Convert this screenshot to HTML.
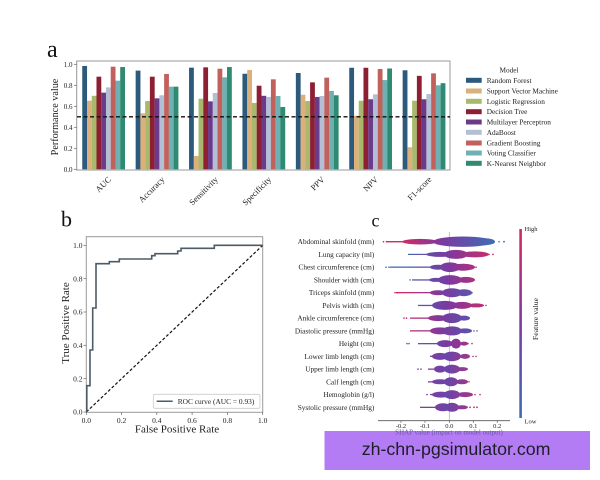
<!DOCTYPE html>
<html><head><meta charset="utf-8">
<style>
html,body{margin:0;padding:0;background:#fff;}
svg{display:block;}
text{font-family:"Liberation Serif","Times New Roman",serif;fill:#222;}
.c0{fill:#2c5a7c}.c1{fill:#dcb07a}.c2{fill:#a8b86c}.c3{fill:#8e1f33}.c4{fill:#6b3b8a}
.c5{fill:#b3bfd4}.c6{fill:#c2615b}.c7{fill:#6fb0b3}.c8{fill:#2e8a70}
.tk{font-size:7px;fill:#333}
.xl{font-size:8.5px;fill:#222}
.lg{font-size:7.3px;fill:#222}
.sl{font-size:7.3px;fill:#222}
</style></head>
<body>
<svg width="600" height="480" viewBox="0 0 600 480" xmlns="http://www.w3.org/2000/svg">
<defs>
<linearGradient id="rb" gradientUnits="userSpaceOnUse" x1="400" y1="0" x2="495" y2="0">
<stop offset="0" stop-color="#d42a63"/><stop offset="0.45" stop-color="#7b3aa0"/><stop offset="1" stop-color="#3e6db5"/></linearGradient>
<linearGradient id="br" gradientUnits="userSpaceOnUse" x1="400" y1="0" x2="495" y2="0">
<stop offset="0" stop-color="#3e6db5"/><stop offset="0.5" stop-color="#7b3aa0"/><stop offset="1" stop-color="#d42a63"/></linearGradient>
<linearGradient id="mx" gradientUnits="userSpaceOnUse" x1="415" y1="0" x2="480" y2="0">
<stop offset="0" stop-color="#8a3a9a"/><stop offset="0.5" stop-color="#6a45a8"/><stop offset="1" stop-color="#b83278"/></linearGradient>
<linearGradient id="cb" x1="0" y1="0" x2="0" y2="1">
<stop offset="0" stop-color="#d42a63"/><stop offset="0.5" stop-color="#7b3aa0"/><stop offset="1" stop-color="#3e6db5"/></linearGradient>
</defs>

<!-- ============ Panel a ============ -->
<text x="47" y="57" style="font-size:24px;fill:#111">a</text>
<rect x="76.7" y="61" width="373.3" height="109" fill="#fff" stroke="#999" stroke-width="1"/>

<g id="grp0" transform="translate(82.25 0)">
<rect class="c0" x="0" y="65.98" width="4.8" height="103.32"/>
<rect class="c1" x="4.745" y="100.73" width="4.8" height="68.57"/>
<rect class="c2" x="9.49" y="95.8" width="4.8" height="73.5"/>
<rect class="c3" x="14.235" y="76.69" width="4.8" height="92.61"/>
<rect class="c4" x="18.98" y="92.65" width="4.8" height="76.65"/>
<rect class="c5" x="23.725" y="87.4" width="4.8" height="81.9"/>
<rect class="c6" x="28.47" y="66.71" width="4.8" height="102.59"/>
<rect class="c7" x="33.215" y="80.68" width="4.8" height="88.62"/>
<rect class="c8" x="37.96" y="67.03" width="4.8" height="102.27"/>
</g>
<g transform="translate(135.65 0)">
<rect class="c0" x="0" y="70.6" width="4.8" height="98.7"/>
<rect class="c1" x="4.745" y="113.33" width="4.8" height="55.97"/>
<rect class="c2" x="9.49" y="101.05" width="4.8" height="68.25"/>
<rect class="c3" x="14.235" y="76.69" width="4.8" height="92.61"/>
<rect class="c4" x="18.98" y="98.32" width="4.8" height="70.98"/>
<rect class="c5" x="23.725" y="95.27" width="4.8" height="74.03"/>
<rect class="c6" x="28.47" y="73.96" width="4.8" height="95.34"/>
<rect class="c7" x="33.215" y="86.66" width="4.8" height="82.64"/>
<rect class="c8" x="37.96" y="86.66" width="4.8" height="82.64"/>
</g>
<g transform="translate(189.05 0)">
<rect class="c0" x="0" y="67.66" width="4.8" height="101.64"/>
<rect class="c1" x="4.745" y="155.96" width="4.8" height="13.34"/>
<rect class="c2" x="9.49" y="98.74" width="4.8" height="70.56"/>
<rect class="c3" x="14.235" y="67.34" width="4.8" height="101.96"/>
<rect class="c4" x="18.98" y="101.36" width="4.8" height="67.94"/>
<rect class="c5" x="23.725" y="92.96" width="4.8" height="76.34"/>
<rect class="c6" x="28.47" y="68.71" width="4.8" height="100.59"/>
<rect class="c7" x="33.215" y="77.32" width="4.8" height="91.98"/>
<rect class="c8" x="37.96" y="67.03" width="4.8" height="102.27"/>
</g>
<g transform="translate(242.45 0)">
<rect class="c0" x="0" y="73.75" width="4.8" height="95.55"/>
<rect class="c1" x="4.745" y="69.97" width="4.8" height="99.33"/>
<rect class="c2" x="9.49" y="102.94" width="4.8" height="66.36"/>
<rect class="c3" x="14.235" y="85.72" width="4.8" height="83.58"/>
<rect class="c4" x="18.98" y="95.8" width="4.8" height="73.5"/>
<rect class="c5" x="23.725" y="96.95" width="4.8" height="72.35"/>
<rect class="c6" x="28.47" y="79.31" width="4.8" height="89.99"/>
<rect class="c7" x="33.215" y="96.01" width="4.8" height="73.29"/>
<rect class="c8" x="37.96" y="107.03" width="4.8" height="62.27"/>
</g>
<g transform="translate(295.85 0)">
<rect class="c0" x="0" y="73.01" width="4.8" height="96.29"/>
<rect class="c1" x="4.745" y="94.75" width="4.8" height="74.55"/>
<rect class="c2" x="9.49" y="101.05" width="4.8" height="68.25"/>
<rect class="c3" x="14.235" y="82.36" width="4.8" height="86.94"/>
<rect class="c4" x="18.98" y="96.95" width="4.8" height="72.35"/>
<rect class="c5" x="23.725" y="96.01" width="4.8" height="73.29"/>
<rect class="c6" x="28.47" y="77.63" width="4.8" height="91.67"/>
<rect class="c7" x="33.215" y="90.97" width="4.8" height="78.33"/>
<rect class="c8" x="37.96" y="95.27" width="4.8" height="74.03"/>
</g>
<g transform="translate(349.25 0)">
<rect class="c0" x="0" y="67.76" width="4.8" height="101.54"/>
<rect class="c1" x="4.745" y="115.75" width="4.8" height="53.55"/>
<rect class="c2" x="9.49" y="100.73" width="4.8" height="68.57"/>
<rect class="c3" x="14.235" y="67.76" width="4.8" height="101.54"/>
<rect class="c4" x="18.98" y="99.26" width="4.8" height="70.04"/>
<rect class="c5" x="23.725" y="94.33" width="4.8" height="74.97"/>
<rect class="c6" x="28.47" y="69.02" width="4.8" height="100.28"/>
<rect class="c7" x="33.215" y="80.05" width="4.8" height="89.25"/>
<rect class="c8" x="37.96" y="68.5" width="4.8" height="100.8"/>
</g>
<g transform="translate(402.65 0)">
<rect class="c0" x="0" y="70.28" width="4.8" height="99.02"/>
<rect class="c1" x="4.745" y="147.25" width="4.8" height="22.05"/>
<rect class="c2" x="9.49" y="100.73" width="4.8" height="68.57"/>
<rect class="c3" x="14.235" y="75.85" width="4.8" height="93.45"/>
<rect class="c4" x="18.98" y="99.26" width="4.8" height="70.04"/>
<rect class="c5" x="23.725" y="94.01" width="4.8" height="75.29"/>
<rect class="c6" x="28.47" y="73.33" width="4.8" height="95.97"/>
<rect class="c7" x="33.215" y="85.3" width="4.8" height="84"/>
<rect class="c8" x="37.96" y="83.2" width="4.8" height="86.1"/>
</g>

<line x1="77" y1="116.8" x2="450" y2="116.8" stroke="#111" stroke-width="1.3" stroke-dasharray="4,2.5"/>

<!-- y ticks a -->
<g stroke="#666" stroke-width="0.7">
<line x1="74" y1="169.3" x2="76.7" y2="169.3"/><line x1="74" y1="148.3" x2="76.7" y2="148.3"/>
<line x1="74" y1="127.3" x2="76.7" y2="127.3"/><line x1="74" y1="106.3" x2="76.7" y2="106.3"/>
<line x1="74" y1="85.3" x2="76.7" y2="85.3"/><line x1="74" y1="64.3" x2="76.7" y2="64.3"/>
</g>
<g class="tk" text-anchor="end">
<text x="72.5" y="171.8">0.0</text><text x="72.5" y="150.8">0.2</text><text x="72.5" y="129.8">0.4</text>
<text x="72.5" y="108.8">0.6</text><text x="72.5" y="87.8">0.8</text><text x="72.5" y="66.8">1.0</text>
</g>
<text transform="translate(58 117) rotate(-90)" text-anchor="middle" style="font-size:10.2px">Performance value</text>

<g class="xl" text-anchor="end">
<text transform="translate(111.6 180) rotate(-45)">AUC</text>
<text transform="translate(165 180) rotate(-45)">Accuracy</text>
<text transform="translate(218.4 180) rotate(-45)">Sensitivity</text>
<text transform="translate(271.8 180) rotate(-45)">Specificity</text>
<text transform="translate(325.2 180) rotate(-45)">PPV</text>
<text transform="translate(378.6 180) rotate(-45)">NPV</text>
<text transform="translate(432 180) rotate(-45)">F1-score</text>
</g>

<!-- legend a -->
<text x="509" y="72.7" text-anchor="middle" class="lg">Model</text>
<rect class="c0" x="466" y="77.8" width="15.7" height="5"/><text class="lg" x="486.7" y="82.8">Random Forest</text>
<rect class="c1" x="466" y="88.5" width="15.7" height="5"/><text class="lg" x="486.7" y="93.5">Support Vector Machine</text>
<rect class="c2" x="466" y="98.8" width="15.7" height="5"/><text class="lg" x="486.7" y="103.8">Logistic Regression</text>
<rect class="c3" x="466" y="109.2" width="15.7" height="5"/><text class="lg" x="486.7" y="114.2">Decision Tree</text>
<rect class="c4" x="466" y="119.5" width="15.7" height="5"/><text class="lg" x="486.7" y="124.5">Multilayer Perceptron</text>
<rect class="c5" x="466" y="129.8" width="15.7" height="5"/><text class="lg" x="486.7" y="134.8">AdaBoost</text>
<rect class="c6" x="466" y="140.5" width="15.7" height="5"/><text class="lg" x="486.7" y="145.5">Gradient Boosting</text>
<rect class="c7" x="466" y="150.5" width="15.7" height="5"/><text class="lg" x="486.7" y="155.5">Voting Classifier</text>
<rect class="c8" x="466" y="160.8" width="15.7" height="5"/><text class="lg" x="486.7" y="165.8">K-Nearest Neighbor</text>

<!-- ============ Panel b ============ -->
<text x="61" y="226.7" style="font-size:22px;fill:#111">b</text>
<rect x="86.3" y="236.7" width="176.4" height="175.6" fill="#fff" stroke="#999" stroke-width="1"/>
<line x1="86.3" y1="412" x2="262.7" y2="245.3" stroke="#111" stroke-width="1.2" stroke-dasharray="3,2"/>
<path d="M86.8,412 V385.7 H90 V350 H92.7 V308 H96 V263.7 H109.3 V261.7 H119.3 V259 H151.7 V255.7 H155 V253.7 H177.7 V251 H181 V248.3 H214.3 V245.3 H262.7" fill="none" stroke="#4b5b68" stroke-width="1.6"/>
<g stroke="#666" stroke-width="0.7">
<line x1="83.5" y1="412" x2="86.3" y2="412"/><line x1="83.5" y1="378.7" x2="86.3" y2="378.7"/>
<line x1="83.5" y1="345.3" x2="86.3" y2="345.3"/><line x1="83.5" y1="312" x2="86.3" y2="312"/>
<line x1="83.5" y1="278.7" x2="86.3" y2="278.7"/><line x1="83.5" y1="245.3" x2="86.3" y2="245.3"/>
<line x1="86.3" y1="412.3" x2="86.3" y2="415"/><line x1="121.6" y1="412.3" x2="121.6" y2="415"/>
<line x1="156.8" y1="412.3" x2="156.8" y2="415"/><line x1="192.1" y1="412.3" x2="192.1" y2="415"/>
<line x1="227.4" y1="412.3" x2="227.4" y2="415"/><line x1="262.7" y1="412.3" x2="262.7" y2="415"/>
</g>
<g class="tk" text-anchor="end" style="font-size:7.5px">
<text x="82.5" y="414.6">0.0</text><text x="82.5" y="381.3">0.2</text><text x="82.5" y="347.9">0.4</text>
<text x="82.5" y="314.6">0.6</text><text x="82.5" y="281.3">0.8</text><text x="82.5" y="247.9">1.0</text>
</g>
<g class="tk" text-anchor="middle" style="font-size:7.5px">
<text x="86.3" y="423">0.0</text><text x="121.6" y="423">0.2</text><text x="156.8" y="423">0.4</text>
<text x="192.1" y="423">0.6</text><text x="227.4" y="423">0.8</text><text x="262.7" y="423">1.0</text>
</g>
<text x="177" y="432.5" text-anchor="middle" style="font-size:11px">False Positive Rate</text>
<text transform="translate(69 323) rotate(-90)" text-anchor="middle" style="font-size:11px">True Positive Rate</text>
<rect x="153.3" y="394.3" width="106.7" height="14" rx="1.5" fill="#fff" stroke="#ccc" stroke-width="0.8"/>
<line x1="156.7" y1="401.3" x2="172.7" y2="401.3" stroke="#4b5b68" stroke-width="1.5"/>
<text x="177.7" y="403.8" style="font-size:7.4px">ROC curve (AUC = 0.93)</text>

<!-- ============ Panel c ============ -->
<text x="371.5" y="226.7" style="font-size:18px;fill:#111">c</text>
<line x1="449.3" y1="232" x2="449.3" y2="420.7" stroke="#aaa" stroke-width="0.7"/>

<g class="sl" text-anchor="end">
<text x="374.3" y="244.2">Abdominal skinfold (mm)</text>
<text x="374.3" y="256.9">Lung capacity (ml)</text>
<text x="374.3" y="269.7">Chest circumference (cm)</text>
<text x="374.3" y="282.4">Shoulder width (cm)</text>
<text x="374.3" y="295.2">Triceps skinfold (mm)</text>
<text x="374.3" y="307.9">Pelvis width (cm)</text>
<text x="374.3" y="320.6">Ankle circumference (cm)</text>
<text x="374.3" y="333.4">Diastolic pressure (mmHg)</text>
<text x="374.3" y="346.1">Height (cm)</text>
<text x="374.3" y="358.9">Lower limb length (cm)</text>
<text x="374.3" y="371.6">Upper limb length (cm)</text>
<text x="374.3" y="384.3">Calf length (cm)</text>
<text x="374.3" y="397.1">Hemoglobin (g/l)</text>
<text x="374.3" y="409.8">Systolic pressure (mmHg)</text>
</g>

<!-- r1 Abdominal -->
<g fill="url(#rb)">
<rect x="386" y="241" width="30" height="1.4"/>
<ellipse cx="420" cy="241.7" rx="18" ry="2.8"/>
<ellipse cx="463" cy="241.7" rx="30" ry="5.2"/>
<ellipse cx="485" cy="241.7" rx="10" ry="3.5"/>
<circle cx="383.5" cy="241.7" r="0.8"/><circle cx="386.5" cy="241.7" r="0.8"/>
<circle cx="499" cy="241.7" r="0.8"/><circle cx="504" cy="241.7" r="0.9"/>
</g>
<!-- r2 Lung -->
<g fill="url(#br)">
<rect x="408" y="253.8" width="32" height="1.2"/>
<ellipse cx="440" cy="254.4" rx="14" ry="2.5"/>
<ellipse cx="456" cy="254.4" rx="12" ry="4.5"/>
<ellipse cx="475" cy="254.4" rx="14" ry="3"/>
<circle cx="489" cy="254.4" r="0.8"/><circle cx="493" cy="254.4" r="0.9"/>
</g>
<!-- r3 Chest -->
<g fill="url(#br)">
<rect x="390" y="266.5" width="42" height="1.3"/>
<ellipse cx="438" cy="267.2" rx="8" ry="2.5"/>
<ellipse cx="450" cy="267.2" rx="10" ry="4.8"/>
<ellipse cx="463" cy="267.2" rx="12" ry="3.5"/>
<circle cx="386" cy="267.2" r="0.8"/><circle cx="389" cy="267.2" r="0.8"/>
<circle cx="474" cy="267.2" r="0.8"/><circle cx="476" cy="267.2" r="0.8"/>
</g>
<!-- r4 Shoulder -->
<g fill="url(#br)">
<rect x="412" y="279.3" width="23" height="1.3"/>
<ellipse cx="436" cy="279.9" rx="7" ry="2"/>
<ellipse cx="450" cy="279.9" rx="12" ry="4.8"/>
<ellipse cx="466" cy="279.9" rx="9" ry="3"/>
<circle cx="410" cy="279.9" r="0.8"/><circle cx="474" cy="279.9" r="0.8"/>
</g>
<!-- r5 Triceps -->
<g fill="url(#rb)">
<rect x="396" y="292" width="39" height="1.3"/>
<ellipse cx="438" cy="292.7" rx="8" ry="2.5"/>
<ellipse cx="452" cy="292.7" rx="10" ry="4.5"/>
<ellipse cx="464" cy="292.7" rx="8" ry="3.5"/>
<circle cx="395" cy="292.7" r="0.8"/><circle cx="397.5" cy="292.7" r="0.8"/><circle cx="472" cy="292.7" r="0.8"/>
</g>
<!-- r6 Pelvis -->
<g fill="url(#br)">
<rect x="418" y="304.8" width="16" height="1.3"/>
<ellipse cx="445" cy="305.4" rx="13" ry="4.5"/>
<ellipse cx="462" cy="305.4" rx="10" ry="3.5"/>
<ellipse cx="476" cy="305.4" rx="8" ry="2"/>
<circle cx="483" cy="305.4" r="0.8"/><circle cx="486" cy="305.4" r="0.8"/>
</g>
<!-- r7 Ankle -->
<g fill="url(#rb)">
<rect x="410" y="317.5" width="22" height="1.3"/>
<ellipse cx="438" cy="318.1" rx="10" ry="3"/>
<ellipse cx="452" cy="318.1" rx="10" ry="5"/>
<ellipse cx="464" cy="318.1" rx="6" ry="2.5"/>
<circle cx="404" cy="318.1" r="0.8"/><circle cx="406.5" cy="318.1" r="0.8"/><circle cx="469" cy="318.1" r="0.8"/>
</g>
<!-- r8 Diastolic -->
<g fill="url(#rb)">
<rect x="410" y="330.2" width="22" height="1.3"/>
<ellipse cx="440" cy="330.9" rx="10" ry="3.5"/>
<ellipse cx="452" cy="330.9" rx="10" ry="4.5"/>
<ellipse cx="465" cy="330.9" rx="7" ry="2.5"/>
<circle cx="470" cy="330.9" r="0.8"/><circle cx="474" cy="330.9" r="0.8"/><circle cx="477" cy="330.9" r="0.8"/>
</g>
<!-- r9 Height -->
<g fill="url(#br)">
<rect x="418" y="343" width="22" height="1.3"/>
<ellipse cx="445" cy="343.6" rx="8" ry="3.5"/>
<ellipse cx="456" cy="343.6" rx="5" ry="5"/>
<ellipse cx="464" cy="343.6" rx="4" ry="2"/>
<circle cx="407" cy="343.6" r="0.8"/><circle cx="409" cy="343.6" r="0.8"/>
<circle cx="468" cy="343.6" r="0.8"/><circle cx="472" cy="343.6" r="0.8"/>
</g>
<!-- r10 Lower limb -->
<g fill="url(#mx)">
<rect x="430" y="355.7" width="10" height="1.3"/>
<ellipse cx="440" cy="356.4" rx="8" ry="3.5"/>
<ellipse cx="452" cy="356.4" rx="9" ry="4.8"/>
<ellipse cx="465" cy="356.4" rx="5" ry="2.5"/>
<circle cx="473" cy="356.4" r="0.8"/><circle cx="476" cy="356.4" r="0.8"/>
</g>
<!-- r11 Upper limb -->
<g fill="url(#mx)">
<rect x="428" y="368.5" width="10" height="1.3"/>
<ellipse cx="440" cy="369.1" rx="6" ry="3.5"/>
<ellipse cx="452" cy="369.1" rx="8" ry="4.5"/>
<ellipse cx="462" cy="369.1" rx="6" ry="2"/>
<circle cx="418" cy="369.1" r="0.8"/><circle cx="421" cy="369.1" r="0.8"/>
</g>
<!-- r12 Calf -->
<g fill="url(#mx)">
<rect x="428" y="381.2" width="10" height="1.3"/>
<ellipse cx="440" cy="381.8" rx="8" ry="2.5"/>
<ellipse cx="451" cy="381.8" rx="7" ry="4.5"/>
<ellipse cx="462" cy="381.8" rx="6" ry="2.5"/>
<circle cx="466" cy="381.8" r="0.8"/><circle cx="469" cy="381.8" r="0.8"/>
</g>
<!-- r13 Hemoglobin -->
<g fill="url(#mx)">
<rect x="430" y="393.9" width="10" height="1.3"/>
<ellipse cx="441" cy="394.6" rx="9" ry="3"/>
<ellipse cx="452" cy="394.6" rx="8" ry="4.5"/>
<ellipse cx="465" cy="394.6" rx="8" ry="2.5"/>
<circle cx="427" cy="394.6" r="0.8"/><circle cx="475" cy="394.6" r="0.8"/><circle cx="480" cy="394.6" r="0.8"/>
</g>
<!-- r14 Systolic -->
<g fill="url(#mx)">
<rect x="420" y="406.7" width="16" height="1.3"/>
<ellipse cx="443" cy="407.3" rx="8" ry="4"/>
<ellipse cx="452" cy="407.3" rx="7" ry="4.5"/>
<ellipse cx="462" cy="407.3" rx="6" ry="2"/>
<circle cx="470" cy="407.3" r="0.9" fill="#d42a63"/><circle cx="474" cy="407.3" r="0.9" fill="#d42a63"/><circle cx="477" cy="407.3" r="0.9" fill="#d42a63"/>
</g>

<!-- SHAP x axis -->
<line x1="378" y1="420.7" x2="510" y2="420.7" stroke="#555" stroke-width="0.8"/>
<g stroke="#555" stroke-width="0.7">
<line x1="401" y1="420.7" x2="401" y2="422.8"/><line x1="425" y1="420.7" x2="425" y2="422.8"/>
<line x1="449.3" y1="420.7" x2="449.3" y2="422.8"/><line x1="473.3" y1="420.7" x2="473.3" y2="422.8"/>
<line x1="497.2" y1="420.7" x2="497.2" y2="422.8"/>
</g>
<g class="tk" text-anchor="middle" style="font-size:6.5px">
<text x="401" y="428">-0.2</text><text x="425" y="428">-0.1</text><text x="449.3" y="428">0.0</text>
<text x="473.3" y="428">0.1</text><text x="497.2" y="428">0.2</text>
</g>

<!-- colorbar -->
<rect x="519.3" y="229" width="2.6" height="189" fill="url(#cb)"/>
<text x="524.5" y="231" style="font-size:6.5px">High</text>
<text x="524.5" y="423.5" style="font-size:6.5px">Low</text>
<text transform="translate(538 319) rotate(-90)" text-anchor="middle" style="font-size:7.8px">Feature value</text>

<!-- banner -->
<rect x="324.5" y="431" width="265.5" height="39" fill="#b47cf4"/>
<text x="449" y="434.5" text-anchor="middle" style="font-size:7px;fill:#6a52a8">SHAP value (impact on model output)</text>
<text x="361.7" y="455" style="font-family:'Liberation Sans',Arial,sans-serif;font-size:17.8px;fill:#1e1e28">zh-chn-pgsimulator.com</text>
</svg>
</body></html>
